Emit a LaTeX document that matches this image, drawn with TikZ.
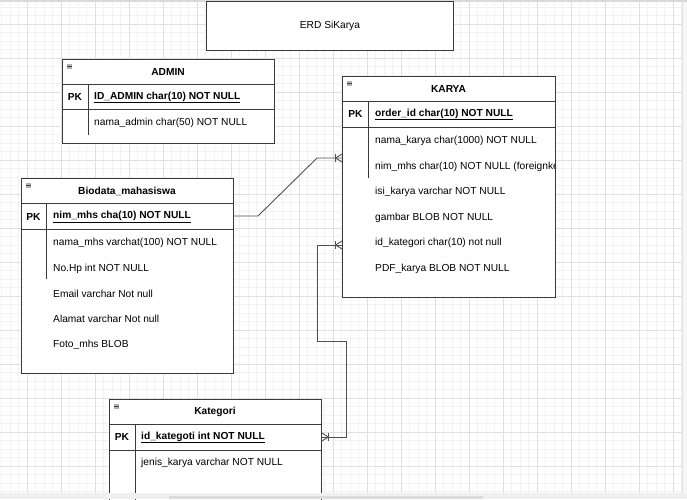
\documentclass[tikz,border=0pt]{standalone}
\usepackage{fontspec}
\setmainfont{Liberation Sans}
\definecolor{gmin}{HTML}{F2F2F2}
\definecolor{gmaj}{HTML}{E0E0E0}
\definecolor{edgec}{HTML}{3A3A3A}
\definecolor{connc}{HTML}{505050}
\definecolor{stripc}{HTML}{F0F0F0}
\definecolor{thumbc}{HTML}{DCDCDC}
\tikzset{
  tbl/.style={draw=edgec, fill=white, line width=0.9pt, anchor=north west, inner sep=0pt},
  ttl/.style={font=\fontsize{10.2}{12}\selectfont\bfseries, inner sep=0pt},
  pk/.style={font=\fontsize{10.2}{12}\selectfont\bfseries, inner sep=0pt},
  fld/.style={font=\fontsize{10.2}{12}\selectfont, inner sep=0pt, anchor=west, yshift=-0.8pt},
  pkf/.style={font=\fontsize{10.2}{12}\selectfont\bfseries, inner sep=0pt, anchor=west, yshift=-0.5pt},
  sep/.style={draw=edgec, line width=0.9pt},
  conn/.style={draw=connc, line width=0.9pt},
}
\newcommand\manyR[1]{%
  \draw[conn] (#1) ++(-6.5,-4) -- ++(0,8);
  \draw[conn] (#1) ++(-6.5,0) -- ++(6.5,-4);
  \draw[conn] (#1) ++(-6.5,0) -- ++(6.5,4);}
\newcommand\manyL[1]{%
  \draw[conn] (#1) ++(6.5,-4) -- ++(0,8);
  \draw[conn] (#1) ++(6.5,0) -- ++(-6.5,-4);
  \draw[conn] (#1) ++(6.5,0) -- ++(-6.5,4);}
\newcommand\minusicon[1]{%
  \fill[gray!60] (#1) ++(4.5,4.5) rectangle ++(5.8,5);
  \draw[black!75, line width=0.6pt] (#1) ++(5.3,7) -- ++(4.2,0);}
\begin{document}
\begin{tikzpicture}[x=1pt,y=-1pt]
\useasboundingbox (0,0) rectangle (687,499);
\fill[white] (0,0) rectangle (687,499);
% grid
\foreach \i in {0,...,80} {\draw[gmin, line width=0.8pt] ({1.8+8.5*\i},2) -- ({1.8+8.5*\i},493);}
\foreach \j in {0,...,57} {\draw[gmin, line width=0.8pt] (0,{7.3+8.5*\j}) -- (682,{7.3+8.5*\j});}
\foreach \i in {0,...,19} {\draw[gmaj, line width=0.8pt] ({27.3+34*\i},2) -- ({27.3+34*\i},493);}
\foreach \j in {0,...,13} {\draw[gmaj, line width=0.8pt] (0,{24.3+34*\j}) -- (682,{24.3+34*\j});}
% frame strips
\fill[gray!30] (0,0) rectangle (687,1.5);
\fill[white!97!black] (682,1.5) rectangle (687,493);
\draw[gmaj, line width=0.8pt] (682,1.5) -- (682,493);

% title
\node[tbl, minimum width=247pt, minimum height=49pt, font=\fontsize{10.2}{12}\selectfont] (title) at (206,1) {ERD SiKarya};

% ADMIN
\node[tbl, minimum width=212pt, minimum height=84pt] (admin) at (62,59) {};
\draw[sep] (62,84) -- (274,84);
\draw[sep] (62,109) -- (274,109);
\draw[sep] (88,84) -- (88,135);
\minusicon{admin.north west}
\node[ttl] (adminT) at (168,71.5) {ADMIN};
\node[pk] (adminPK) at (75,97) {PK};
\node[pkf] (adminF1) at (94,97) {\underline{ID\_ADMIN char(10) NOT NULL}};
\node[fld] (adminF2) at (94,122.5) {nama\_admin char(50) NOT NULL};

% KARYA
\node[tbl, minimum width=213pt, minimum height=221pt] (karya) at (342,76) {};
\draw[sep] (342,101) -- (555,101);
\draw[sep] (342,127) -- (555,127);
\draw[sep] (368,101) -- (368,178);
\minusicon{karya.north west}
\node[ttl] (karyaT) at (448.5,88.5) {KARYA};
\node[pk] (karyaPK) at (355.5,114) {PK};
\node[pkf] (karyaF1) at (375,114) {\underline{order\_id char(10) NOT NULL}};
\node[fld] (karyaF2) at (375,140) {nama\_karya char(1000) NOT NULL};
\begin{scope}
\clip (342,150) rectangle (554.5,180);
\node[fld] (karyaF3) at (375,166) {nim\_mhs char(10) NOT NULL (foreignke};
\end{scope}
\node[fld] (karyaF4) at (375,191) {isi\_karya varchar NOT NULL};
\node[fld] (karyaF5) at (375,217) {gambar BLOB NOT NULL};
\node[fld] (karyaF6) at (375,242) {id\_kategori char(10) not null};
\node[fld] (karyaF7) at (375,268) {PDF\_karya BLOB NOT NULL};

% Biodata_mahasiswa
\node[tbl, minimum width=212pt, minimum height=195pt] (bio) at (21,178) {};
\draw[sep] (21,203) -- (233,203);
\draw[sep] (21,229) -- (233,229);
\draw[sep] (46,203) -- (46,279);
\minusicon{bio.north west}
\node[ttl] (bioT) at (127,191) {Biodata\_mahasiswa};
\node[pk] (bioPK) at (33.5,216.5) {PK};
\node[pkf] (bioF1) at (53,216.5) {\underline{nim\_mhs cha(10) NOT NULL}};
\node[fld] (bioF2) at (53,242) {nama\_mhs varchat(100) NOT NULL};
\node[fld] (bioF3) at (53,268) {No.Hp int NOT NULL};
\node[fld] (bioF4) at (53,293) {Email varchar Not null};
\node[fld] (bioF5) at (53,318.5) {Alamat varchar Not null};
\node[fld] (bioF6) at (53,344) {Foto\_mhs BLOB};

% Kategori
\node[tbl, minimum width=212pt, minimum height=110pt] (kat) at (109,399) {};
\draw[sep] (109,424) -- (321,424);
\draw[sep] (109,450) -- (321,450);
\draw[sep] (135,424) -- (135,509);
\minusicon{kat.north west}
\node[ttl] (katT) at (215,412) {Kategori};
\node[pk] (katPK) at (122,437) {PK};
\node[pkf] (katF1) at (141,437) {\underline{id\_kategoti int NOT NULL}};
\node[fld] (katF2) at (141,462.5) {jenis\_karya varchar NOT NULL};

% connectors
\coordinate (k1) at (karya.west |- 0,158);
\coordinate (k2) at (karya.west |- 0,245);
\coordinate (b1) at (bio.east |- 0,216);
\coordinate (c1) at (kat.east |- 0,437);
\draw[conn] (b1) -- (258,216) -- (317,158) -- (k1);
\manyR{k1}
\draw[conn] (c1) -- (346.5,437) -- (346.5,341) -- (317,341) -- (317,245) -- (k2);
\manyR{k2}
\manyL{c1}

% bottom strip
\fill[stripc] (0,493) rectangle (687,499);
\fill[thumbc] (169,495.5) rectangle (483,499);
\end{tikzpicture}
\end{document}
